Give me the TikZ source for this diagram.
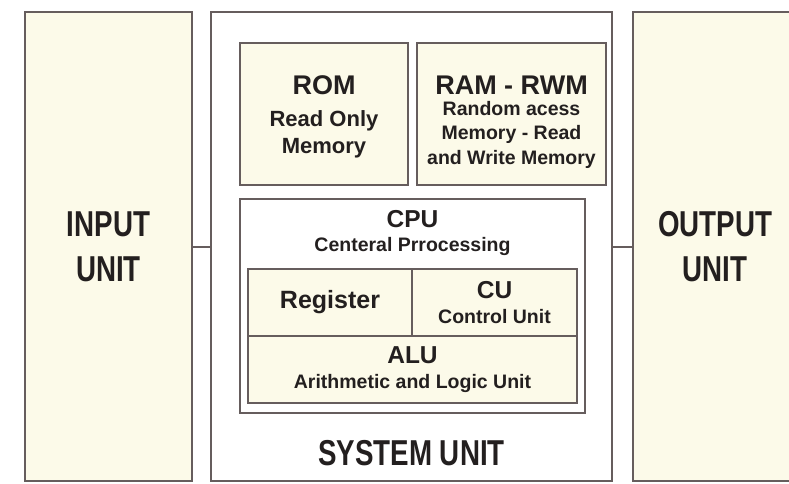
\documentclass[tikz,border=0pt]{standalone}
\usepackage{fontspec}
\setmainfont{Liberation Sans}
\newfontfamily\narrowsans[FakeStretch=0.77]{Liberation Sans}

\definecolor{boxline}{HTML}{665D5D}
\definecolor{cream}{HTML}{FCFAE9}
\definecolor{ink}{HTML}{231F1F}

\newcommand\unitfont{\narrowsans\bfseries\fontsize{36}{45}\selectfont}
\newcommand\bigfont{\bfseries\fontsize{27}{30}\selectfont}
\newcommand\headfont{\bfseries\fontsize{24.5}{27}\selectfont}
\newcommand\cellfont{\bfseries\fontsize{19.5}{24.5}\selectfont}

\tikzset{
  box/.style={draw=boxline, line width=2.8pt, fill=cream, inner sep=0pt,
    align=center, text=ink},
  cell/.style={box, line width=2.2pt},
  title/.style={text=ink, align=center, inner sep=0pt}
}

\begin{document}
\begin{tikzpicture}[x=1pt, y=-1pt]
  \path [use as bounding box] (0,0) rectangle (789,483);
  \clip (0,0) rectangle (789,483);
  % the three units
  \node [box, minimum width=167, minimum height=469, font=\unitfont] (input) at (108.5,246.5) {INPUT\\UNIT};
  \node [box, fill=white, minimum width=401, minimum height=469] (sys) at (411.5,246.5) {};
  \node [box, minimum width=164, minimum height=469, font=\unitfont] (output) at (715,246.5) {OUTPUT\\UNIT};
  \draw [boxline, line width=2pt] (input) -- (sys);
  \draw [boxline, line width=2pt] (sys) -- (output);
  % memory
  \node [box, minimum width=168, minimum height=142] (rom) at (324,114) {};
  \node [title, font=\bfseries\fontsize{22}{27}\selectfont] (romtext) at (324,117)
    {{\bigfont ROM}\\[5pt]Read Only\\Memory};
  \node [box, minimum width=189, minimum height=142] (ram) at (511.5,114) {};
  \node [title, font=\cellfont] (ramtext) at (511.5,122)
    {{\bigfont RAM - RWM}\\[-4pt]Random acess\\Memory - Read\\and Write Memory};
  % cpu
  \node [box, fill=white, minimum width=345, minimum height=214] (cpu) at (412.5,306) {};
  \node [title, font=\cellfont] (cputitle) at (412.5,233) {{\headfont CPU}\\Centeral Prrocessing};
  \node [cell, minimum width=164, minimum height=67, font=\bfseries\fontsize{25}{28}\selectfont] (reg) at (330,302.5) {Register};
  \node [cell, minimum width=165, minimum height=67, font=\cellfont] (cu) at (494.5,302.5) {{\headfont CU}\\Control Unit};
  \node [cell, minimum width=329, minimum height=67, font=\cellfont] (alu) at (412.5,369.5) {{\headfont ALU}\\Arithmetic and Logic Unit};
  \node [title, font=\unitfont] (systitle) at (411.5,453) {SYSTEM UNIT};
\end{tikzpicture}
\end{document}
